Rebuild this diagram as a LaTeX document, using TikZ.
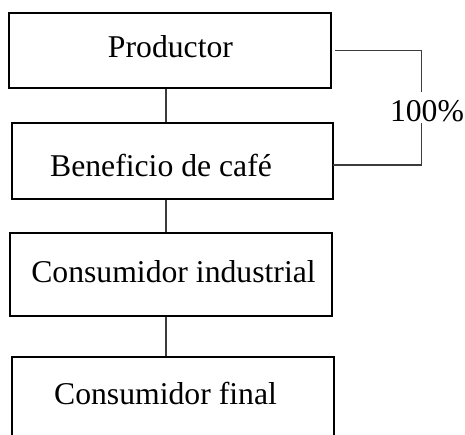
\documentclass[tikz,border=0pt]{standalone}
\usepackage{fontspec}
\setmainfont{Liberation Serif}
\begin{document}
\begin{tikzpicture}[x=1pt,y=-1pt,
  box/.style={draw=black,line width=2pt,inner sep=0pt,rectangle},
  lbl/.style={anchor=base,inner sep=0pt,font=\fontsize{31.7}{38}\selectfont},
  conn/.style={draw={rgb,255:red,60;green,60;blue,60},line width=1.2pt}]
\clip (0,0) rectangle (465,434);
\useasboundingbox (0,0) rectangle (465,434);
% boxes
\node[box,minimum width=322pt,minimum height=75pt] (b1) at (170,50.5) {};
\node[box,minimum width=321pt,minimum height=76pt] (b2) at (172.5,161) {};
\node[box,minimum width=322pt,minimum height=83pt] (b3) at (171,274.5) {};
\node[box,minimum width=322pt,minimum height=90pt] (b4) at (173,401.5) {};
% texts
\node[lbl] (t1) at (170.5,57) {Productor};
\node[lbl] (t2) at (161,176) {Beneficio de café};
\node[lbl] (t3) at (173.5,282.3) {Consumidor industrial};
\node[lbl] (t4) at (165.5,404) {Consumidor final};
\node[lbl] (pct) at (427,121) {100\%};
% connectors
\coordinate (spine) at (166,0);
\draw[conn] (b1.south -| spine) -- (b2.north -| spine);
\draw[conn] (b2.south -| spine) -- (b3.north -| spine);
\draw[conn] (b3.south -| spine) -- (b4.north -| spine);
% bracket
\coordinate (rt) at (421.5,50.3);
\coordinate (rb) at (421.5,165);
\draw[conn] ([xshift=3pt]b1.east |- rt) -- (rt) -- ([yshift=7.6pt]rt |- pct.north);
\draw[conn] ([yshift=-1.7pt]rt |- pct.south) -- (rb) -- ([xshift=-1pt]b2.east |- rb);
\end{tikzpicture}
\end{document}
